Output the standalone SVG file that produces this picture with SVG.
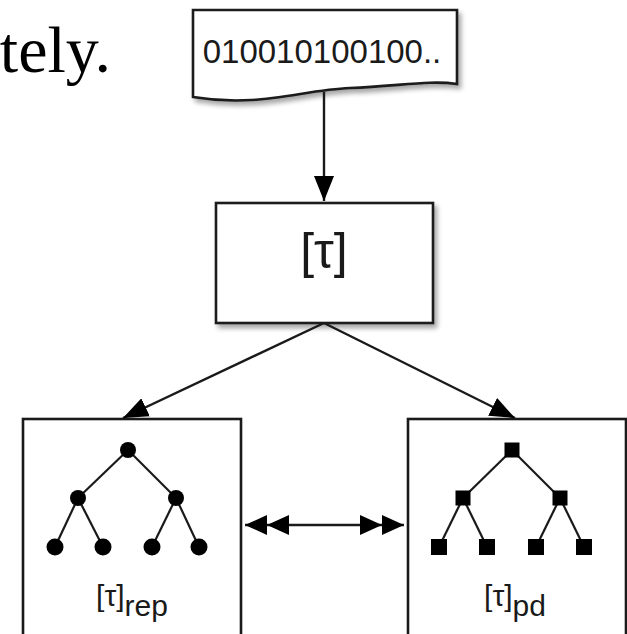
<svg xmlns="http://www.w3.org/2000/svg" width="627" height="634" viewBox="0 0 627 634">
<style>
  .shape { fill: #ffffff; stroke: #1a1a1a; stroke-width: 2.6; }
  .conn { fill: none; stroke: #1a1a1a; stroke-width: 2.4; }
  .edge { fill: none; stroke: #1a1a1a; stroke-width: 2.2; }
  .node { fill: #000000; }
  .lbl { font-family: "Liberation Sans", Arial, sans-serif; fill: #1a1a1a; }
  .big { font-family: "Liberation Serif", "Times New Roman", serif; fill: #000000; }
</style>
<defs>
  <filter id="shadow" x="-10%" y="-10%" width="130%" height="140%">
    <feGaussianBlur in="SourceAlpha" stdDeviation="2.5"/>
    <feOffset dx="3" dy="4" result="b"/>
    <feComponentTransfer><feFuncA type="linear" slope="0.35"/></feComponentTransfer>
    <feMerge><feMergeNode/><feMergeNode in="SourceGraphic"/></feMerge>
  </filter>
  <marker id="arrow" viewBox="0 0 25 20" refX="25" refY="10" markerWidth="25" markerHeight="20" markerUnits="userSpaceOnUse" orient="auto">
    <path d="M0,0 L25,10 L0,20 z" fill="#000"/>
  </marker>
  <marker id="dbl" viewBox="-23 0 46 20" refX="22" refY="10" markerWidth="46" markerHeight="20" markerUnits="userSpaceOnUse" orient="auto-start-reverse" overflow="visible">
    <path d="M0,0 L22,10 L0,20 z M-22,0 L0,10 L-22,20 z" fill="#000"/>
  </marker>
</defs>
<rect width="627" height="634" fill="#ffffff"/>

<text class="big" x="111" y="72" font-size="66" text-anchor="end">tely.</text>

<g id="bits">
  <path class="shape" filter="url(#shadow)" d="M193,10 L457,10 L457,84 C430,80 400,86 350,88 C300,90 260,108 193,97 Z"/>
  <text class="lbl" x="322" y="63" font-size="33" text-anchor="middle">010010100100..</text>
</g>

<g id="tau">
  <rect class="shape" filter="url(#shadow)" x="216" y="203" width="217" height="120"/>
  <text class="lbl" x="324" y="268" font-size="50" text-anchor="middle">[τ]</text>
</g>

<g id="rep">
  <rect class="shape" x="23" y="419" width="218" height="240"/>
  <g class="edge">
    <line x1="128" y1="450" x2="78" y2="498"/>
    <line x1="128" y1="450" x2="176" y2="498"/>
    <line x1="78" y1="498" x2="55" y2="547"/>
    <line x1="78" y1="498" x2="103" y2="547"/>
    <line x1="176" y1="498" x2="152" y2="547"/>
    <line x1="176" y1="498" x2="199" y2="547"/>
  </g>
  <g class="node">
    <circle cx="128" cy="450" r="8"/>
    <circle cx="78" cy="498" r="8"/>
    <circle cx="176" cy="498" r="8"/>
    <circle cx="55" cy="547" r="8.5"/>
    <circle cx="103" cy="547" r="8.5"/>
    <circle cx="152" cy="547" r="8.5"/>
    <circle cx="199" cy="547" r="8.5"/>
  </g>
  <text class="lbl" x="132" y="606" font-size="30" text-anchor="middle">[τ]<tspan dy="10" font-size="30">rep</tspan></text>
</g>

<g id="pd">
  <rect class="shape" x="408" y="419" width="218" height="240"/>
  <g class="edge">
    <line x1="512" y1="450" x2="463" y2="498"/>
    <line x1="512" y1="450" x2="560" y2="498"/>
    <line x1="463" y1="498" x2="439" y2="547"/>
    <line x1="463" y1="498" x2="487" y2="547"/>
    <line x1="560" y1="498" x2="536" y2="547"/>
    <line x1="560" y1="498" x2="584" y2="547"/>
  </g>
  <g class="node">
    <rect x="504.5" y="442.5" width="15" height="15"/>
    <rect x="455.5" y="490.5" width="15" height="15"/>
    <rect x="552.5" y="490.5" width="15" height="15"/>
    <rect x="431" y="539" width="16" height="16"/>
    <rect x="479" y="539" width="16" height="16"/>
    <rect x="528" y="539" width="16" height="16"/>
    <rect x="576" y="539" width="16" height="16"/>
  </g>
  <text class="lbl" x="515" y="606" font-size="30" text-anchor="middle">[τ]<tspan dy="10" font-size="30">pd</tspan></text>
</g>

<g id="connectors">
  <line class="conn" x1="324" y1="92" x2="324" y2="201" marker-end="url(#arrow)"/>
  <line class="conn" x1="324" y1="323" x2="123" y2="418" marker-end="url(#arrow)"/>
  <line class="conn" x1="324" y1="323" x2="515" y2="418" marker-end="url(#arrow)"/>
  <line class="conn" x1="245" y1="525" x2="404" y2="525" marker-start="url(#dbl)" marker-end="url(#dbl)"/>
</g>
</svg>
